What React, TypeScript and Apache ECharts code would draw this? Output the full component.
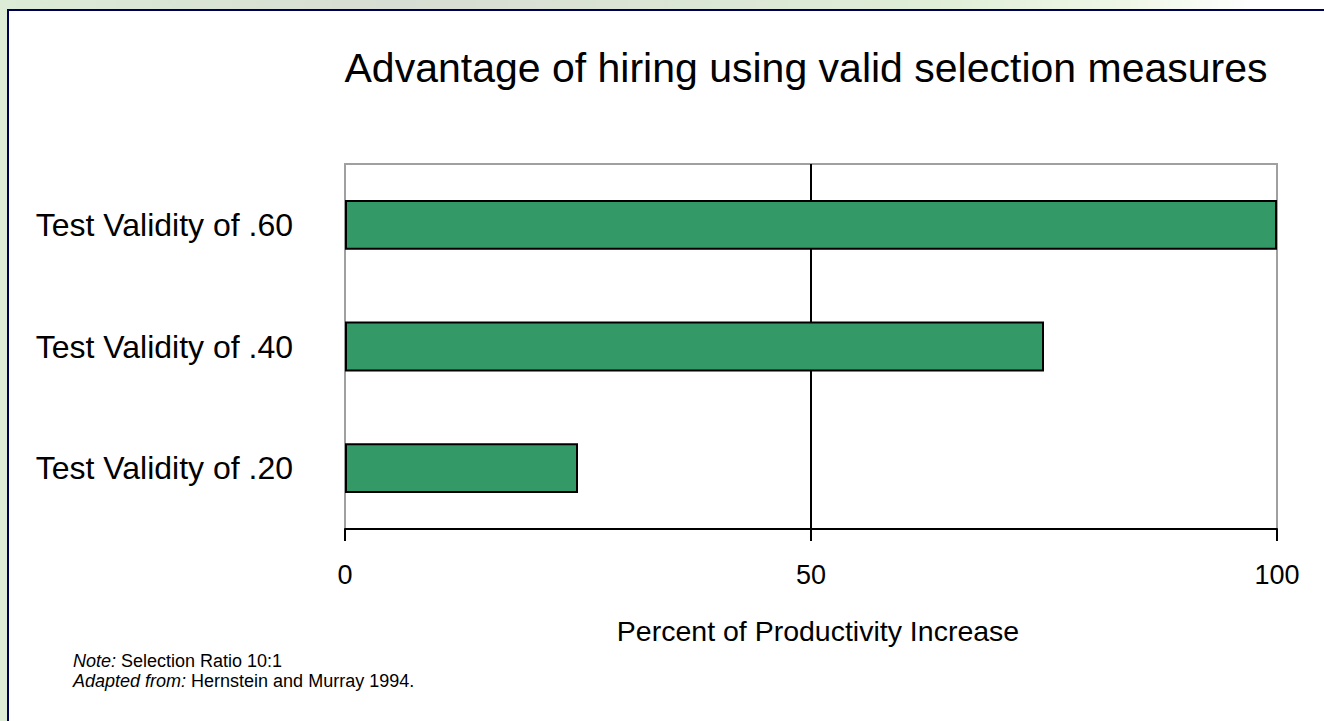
import React, { useEffect, useRef } from "react";
import * as echarts from "echarts";

const categories = ["Test Validity of .60", "Test Validity of .40", "Test Validity of .20"];
const values = [100, 75, 25];
const titleText = "Advantage of hiring using valid selection measures";
const axisName = "Percent of Productivity Increase";

export default function App() {
  const ref = useRef<HTMLDivElement>(null);
  useEffect(() => {
    const chart = echarts.init(ref.current!, null, { renderer: "svg" });
    chart.setOption({
      animation: false,
      title: {
        text: titleText,
        left: 801,
        top: 42,
        textAlign: "center",
        textStyle: { fontFamily: "Liberation Sans", fontSize: 41, fontWeight: "normal", color: "#000" },
      },
      grid: {
        left: 345,
        right: 47,
        top: 164,
        bottom: 192,
        show: true,
        borderColor: "#a0a0a0",
        borderWidth: 2,
        backgroundColor: "transparent",
      },
      xAxis: {
        type: "value",
        min: 0,
        max: 100,
        interval: 50,
        name: axisName,
        nameLocation: "middle",
        nameGap: 87,
        nameTextStyle: { fontFamily: "Liberation Sans", fontSize: 28.5, color: "#000", padding: [0, 0, 0, 14] },
        axisLine: { show: true, lineStyle: { color: "#000", width: 2 } },
        axisTick: { show: true, length: 12, lineStyle: { color: "#000", width: 2 } },
        axisLabel: { margin: 32, fontFamily: "Liberation Sans", fontSize: 27, color: "#000" },
        splitLine: { show: true, showMinLine: false, showMaxLine: false, lineStyle: { color: "#000", width: 2 } },
      },
      yAxis: {
        type: "category",
        data: categories,
        inverse: true,
        axisLine: { show: false },
        axisTick: { show: false },
        axisLabel: { margin: 52, fontFamily: "Liberation Sans", fontSize: 32, color: "#000" },
        splitLine: { show: false },
      },
      series: [
        {
          type: "bar",
          data: values,
          barWidth: "41%",
          itemStyle: { color: "#339966", borderColor: "#000", borderWidth: 2 },
        },
      ],
      graphic: [
        {
          type: "text",
          left: 73,
          top: 651,
          style: {
            text: "{i|Note:} Selection Ratio 10:1\n{i|Adapted from:} Hernstein and Murray 1994.",
            fontFamily: "Liberation Sans",
            fontSize: 18,
            lineHeight: 20,
            fill: "#000",
            rich: {
              i: { fontStyle: "italic", fontFamily: "Liberation Sans", fontSize: 18, lineHeight: 20 },
            },
          },
        },
      ],
    });
    return () => chart.dispose();
  }, []);
  return (
    <div
      style={{
        position: "fixed",
        left: 0,
        top: 0,
        width: 1324,
        height: 721,
        overflow: "hidden",
        background: "linear-gradient(90deg, #dcecd6 0%, #d6ddd2 30%, #dfeed7 70%, #eef7e6 85%, #ffffff 95%)",
      }}
    >
      <div
        style={{
          position: "absolute",
          left: 7,
          top: 9,
          width: 1340,
          height: 740,
          background: "#fff",
          border: "2px solid #000050",
          boxSizing: "border-box",
        }}
      />
      <div ref={ref} style={{ position: "absolute", left: 0, top: 0, width: 1324, height: 721 }} />
    </div>
  );
}
